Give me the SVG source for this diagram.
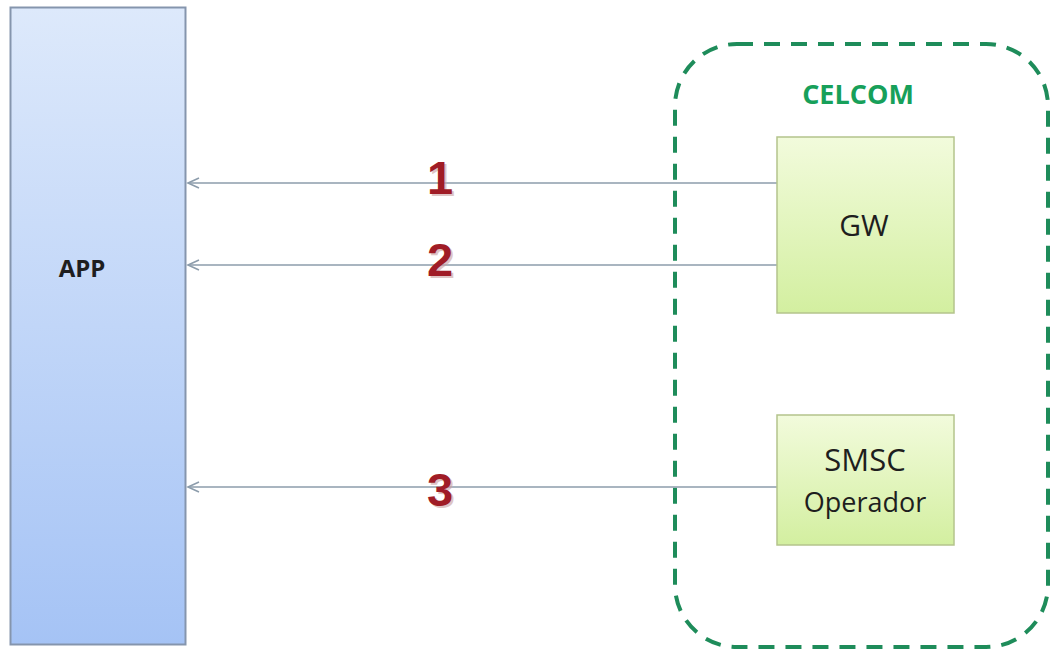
<svg xmlns="http://www.w3.org/2000/svg" width="1052" height="652" viewBox="0 0 1052 652">
<style>
.lbl{font-family:"Open Sans","Liberation Sans",Arial,sans-serif;fill:#1e1e1e}
.num{font-family:"Liberation Sans",Arial,sans-serif;font-weight:bold;font-size:47px;fill:#a01c26;text-anchor:middle}
.numsh{font-family:"Liberation Sans",Arial,sans-serif;font-weight:bold;font-size:47px;fill:#c9a0a0;opacity:0.6;text-anchor:middle}
.conn{stroke:#8c9cab;stroke-width:1.6;fill:none}
.gbox{fill:url(#gGreen);stroke:#b4c48c;stroke-width:1.5}
</style>
<defs>
<linearGradient id="gBlue" x1="0" y1="0" x2="0" y2="1">
<stop offset="0" stop-color="#dde9fb"/>
<stop offset="1" stop-color="#a5c3f5"/>
</linearGradient>
<linearGradient id="gGreen" x1="0" y1="0" x2="0" y2="1">
<stop offset="0" stop-color="#f2fbdc"/>
<stop offset="1" stop-color="#d3efa0"/>
</linearGradient>
<marker id="arr" markerWidth="14" markerHeight="12" refX="12" refY="6" orient="auto" markerUnits="userSpaceOnUse">
<path d="M1,1 L12,6 L1,11" fill="none" stroke="#8c9cab" stroke-width="1.6"/>
</marker>
</defs>
<rect width="1052" height="652" fill="#ffffff"/>
<g id="celcom">
<rect x="675" y="44" width="373" height="603" rx="62" ry="62" fill="none" stroke="#1e8c5a" stroke-width="4" stroke-dasharray="16 11"/>
<text x="858" y="104" font-family="'Open Sans','Liberation Sans',Arial,sans-serif" font-weight="bold" font-size="27" fill="#17a05a" text-anchor="middle">CELCOM</text>
</g>
<g id="app">
<rect x="10.5" y="7.5" width="175" height="637" fill="url(#gBlue)" stroke="#8595ad" stroke-width="2"/>
<text class="lbl" x="82" y="277" font-size="24" font-weight="bold" text-anchor="middle">APP</text>
</g>
<g id="connectors">
<line class="conn" x1="777" y1="183" x2="188" y2="183" marker-end="url(#arr)"/>
<line class="conn" x1="777" y1="265" x2="188" y2="265" marker-end="url(#arr)"/>
<line class="conn" x1="777" y1="487" x2="188" y2="487" marker-end="url(#arr)"/>
<text class="numsh" x="442" y="196">1</text>
<text class="num" x="440" y="194">1</text>
<text class="numsh" x="442" y="278">2</text>
<text class="num" x="440" y="276">2</text>
<text class="numsh" x="442" y="508">3</text>
<text class="num" x="440" y="506">3</text>
</g>
<g id="gw">
<rect class="gbox" x="777" y="137" width="177" height="176"/>
<text class="lbl" x="864" y="236" font-size="30" text-anchor="middle">GW</text>
</g>
<g id="smsc">
<rect class="gbox" x="777" y="415" width="177" height="130"/>
<text class="lbl" x="865" y="471" font-size="31" text-anchor="middle">SMSC</text>
<text class="lbl" x="865" y="512" font-size="27" text-anchor="middle">Operador</text>
</g>
</svg>
